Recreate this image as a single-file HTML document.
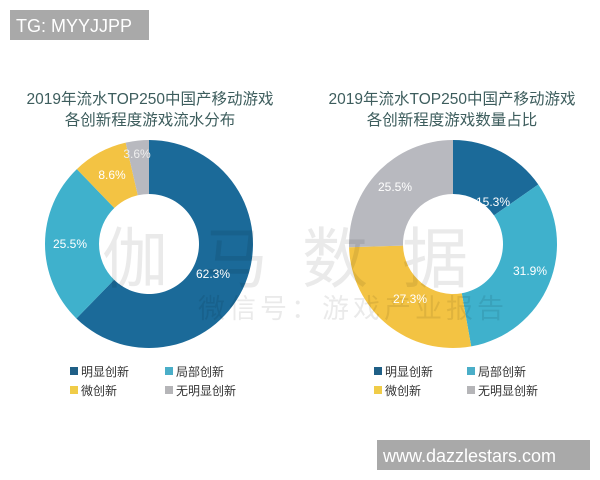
<!DOCTYPE html>
<html><head><meta charset="utf-8"><style>
body{margin:0;background:#fff;width:600px;height:480px;overflow:hidden;font-family:"Liberation Sans","Noto Sans CJK SC",sans-serif}
</style></head><body>
<svg id="s" width="600" height="480" xmlns="http://www.w3.org/2000/svg" style="position:absolute;left:0;top:0">
<rect x="10" y="10" width="139" height="30" fill="#a9a9a9"/>
<text x="16" y="32" font-size="18" fill="#fff" font-family="Liberation Sans,sans-serif">TG: MYYJJPP</text>
<g font-family="Liberation Sans,Noto Sans CJK SC,sans-serif" font-size="15.5" fill="#3d5d5d" text-anchor="middle">
<text x="150" y="104">2019年流水TOP250中国产移动游戏</text>
<text x="150" y="125">各创新程度游戏流水分布</text>
<text x="452" y="104">2019年流水TOP250中国产移动游戏</text>
<text x="452" y="125">各创新程度游戏数量占比</text>
</g>
<g id="d"></g>
<g font-family="Liberation Sans,Noto Sans CJK SC,sans-serif" fill="#000" opacity="0.08">
<text x="102" y="282" font-size="66" letter-spacing="34">伽马数据</text>
<text x="198" y="318" font-size="27" letter-spacing="4">微信号：游戏产业报告</text>
</g>
<g font-family="Liberation Sans,sans-serif" font-size="12" fill="#fff" text-anchor="middle">
<text x="137" y="158" fill="#eee">3.6%</text>
<text x="112" y="179">8.6%</text>
<text x="70" y="248">25.5%</text>
<text x="213" y="278">62.3%</text>
<text x="493" y="206">15.3%</text>
<text x="530" y="275">31.9%</text>
<text x="410" y="303">27.3%</text>
<text x="395" y="191">25.5%</text>
</g>
<g font-family="Liberation Sans,Noto Sans CJK SC,sans-serif" font-size="12" fill="#333">
<rect x="70" y="367" width="8" height="8" fill="#1f5f86"/><text x="81" y="376">明显创新</text>
<rect x="165" y="367" width="8" height="8" fill="#4aaec8"/><text x="176" y="376">局部创新</text>
<rect x="70" y="386" width="8" height="8" fill="#f0cc48"/><text x="81" y="395">微创新</text>
<rect x="165" y="386" width="8" height="8" fill="#b5b5b8"/><text x="176" y="395">无明显创新</text>
<rect x="374" y="367" width="8" height="8" fill="#1f5f86"/><text x="385" y="376">明显创新</text>
<rect x="467" y="367" width="8" height="8" fill="#4aaec8"/><text x="478" y="376">局部创新</text>
<rect x="374" y="386" width="8" height="8" fill="#f0cc48"/><text x="385" y="395">微创新</text>
<rect x="467" y="386" width="8" height="8" fill="#b5b5b8"/><text x="478" y="395">无明显创新</text>
</g>
<rect x="377" y="440" width="213" height="30" fill="#a9a9a9"/>
<text x="383" y="462" font-size="18" fill="#fff" font-family="Liberation Sans,sans-serif">www.dazzlestars.com</text>
</svg>
<script>
var C=["#1b6a99","#3fb1cc","#f3c343","#b8b9bf"];
function donut(cx,cy,R,r,vals){var a=0,out="";var tot=vals.reduce((x,y)=>x+y,0);
vals.forEach(function(v,i){var a0=a/tot*2*Math.PI,a1=(a+v)/tot*2*Math.PI;a+=v;
var p=function(rr,t){return [cx+rr*Math.sin(t),cy-rr*Math.cos(t)]};
var A=p(R,a0),B=p(R,a1),D=p(r,a1),E=p(r,a0),lg=(a1-a0)>Math.PI?1:0;
out+='<path fill="'+C[i]+'" d="M'+A+' A'+R+','+R+' 0 '+lg+' 1 '+B+' L'+D+' A'+r+','+r+' 0 '+lg+' 0 '+E+'Z"/>';});
return out;}
document.getElementById("d").innerHTML=donut(149,244,104,50,[62.3,25.5,8.6,3.6])+donut(453,244,104,50,[15.3,31.9,27.3,25.5]);
</script>
</body></html>
